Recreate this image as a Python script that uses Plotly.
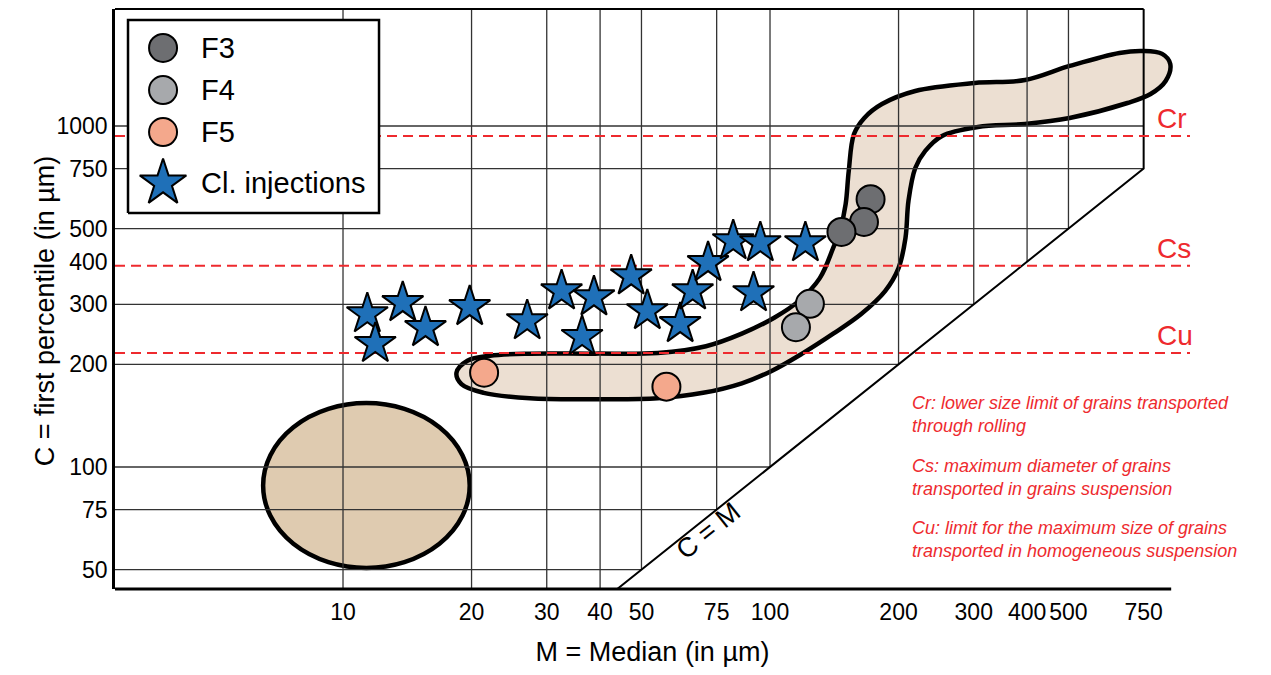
import numpy as np
import plotly.graph_objects as go

# ---- values (M = median, C = first percentile, in µm) ----
f3_m = [172, 166, 147]
f3_c = [610, 523, 489]
f4_m = [124, 115]
f4_c = [301, 257]
f5_m = [21.4, 57.2]
f5_c = [189, 172]
inj_m = [11.4, 13.8, 11.9, 15.6, 19.8, 27.0, 32.5, 38.7, 36.3, 47.3,
         51.6, 61.6, 65.9, 71.6, 82, 94.9, 91.5, 121]
inj_c = [281, 303, 230, 256, 295, 268, 328, 315, 241, 363,
         287, 263, 328, 397, 460, 454, 324, 454]

limit_names = ["Cr", "Cs", "Cu"]
limit_c = [935, 389, 216]
limit_notes = [
    "Cr: lower size limit of grains transported<br>through rolling",
    "Cs: maximum diameter of grains<br>transported in grains suspension",
    "Cu: limit for the maximum size of grains<br>transported in homogeneous suspension",
]

x_ticks = [10, 20, 30, 40, 50, 75, 100, 200, 300, 400, 500, 750]
y_ticks = [50, 75, 100, 200, 300, 400, 500, 750, 1000]
grid_m = [10, 20, 30, 40, 50, 75, 100, 200, 300, 400, 500]
grid_c = [50, 75, 100, 200, 300, 500, 750, 1000]

# outline of the elongated field (closed)
tube_m = [152.9, 157.3, 166.3, 182.9, 218.9, 301.7, 395.5, 503.1, 658, 745.6,
          828.6, 865.7, 844.4, 778.6, 687.2, 503.1, 395.5, 306.9, 252.9, 231.0,
          218.9, 211.0, 207.6, 200, 186, 163.5, 140.6, 118.9, 100.6, 85.9,
          69.7, 54.6, 38.95, 27.4, 21.35, 18.94, 18.44, 19.56, 22.1, 27.4,
          38.95, 54.6, 70.8, 85.9, 102.3, 116.9, 130.8, 140.6, 146.3, 150.4]
tube_c = [738, 947, 1056, 1160, 1267, 1337, 1364, 1500, 1638, 1660,
          1627, 1520, 1355, 1241, 1168, 1056, 1014, 993, 935, 845,
          753, 603, 469, 383, 328, 281, 246, 215, 191, 176,
          165, 159, 158, 159, 165, 175, 189, 205, 212, 215,
          215, 216, 226, 246, 274, 307, 358, 439, 502, 591]

# oval field bounds
ell_m = [6.5, 19.8]
ell_c = [50.6, 154]

legend_names = ["F3", "F4", "F5", "Cl. injections"]
legend_colors = ["#6d6e71", "#a7a9ac", "#f4a88c", "#1f70b8"]

X_RANGE = [0.466, 2.9836]
Y_RANGE = [1.6422, 3.3431]
xmin, xmax = 10 ** X_RANGE[0], 10 ** X_RANGE[1]
ymin, ymax = 10 ** Y_RANGE[0], 10 ** Y_RANGE[1]
m_edge = x_ticks[-1]
axis_end = 870

FONT = "Liberation Sans, Arial, sans-serif"
RED = "#ee2a2e"

fig = go.Figure()

# elongated field
fig.add_trace(go.Scatter(
    x=tube_m + tube_m[:1], y=tube_c + tube_c[:1], mode="lines",
    line=dict(color="black", width=4.5, shape="spline", smoothing=1.0),
    fill="toself", fillcolor="#ecdfd2", hoverinfo="skip"
))

# grid lines, clipped by the C = M line
gx, gy = [], []
for v in grid_m:
    gx += [v, v, None]
    gy += [max(v, ymin), ymax, None]
for h in grid_c:
    gx += [xmin, min(h, m_edge), None]
    gy += [h, h, None]
fig.add_trace(go.Scatter(x=gx, y=gy, mode="lines",
                         line=dict(color="#333333", width=1.3), hoverinfo="skip"))

# right border and C = M diagonal
fig.add_trace(go.Scatter(x=[ymin, m_edge, m_edge], y=[ymin, m_edge, ymax], mode="lines",
                         line=dict(color="black", width=2), hoverinfo="skip"))

# Cr / Cs / Cu limits
for c in limit_c:
    fig.add_trace(go.Scatter(x=[xmin, xmax], y=[c, c], mode="lines",
                             line=dict(color=RED, width=2, dash="10px,6px"),
                             hoverinfo="skip"))

fig.add_trace(go.Scatter(x=inj_m, y=inj_c, mode="markers",
                         marker=dict(symbol="star", size=31, color=legend_colors[3],
                                     line=dict(color="black", width=2))))
for m, c, col in [(f3_m, f3_c, legend_colors[0]), (f4_m, f4_c, legend_colors[1]),
                  (f5_m, f5_c, legend_colors[2])]:
    fig.add_trace(go.Scatter(x=m, y=c, mode="markers",
                             marker=dict(symbol="circle", size=28, color=col,
                                         line=dict(color="black", width=2))))

# hand-made legend on an overlay axis spanning the plot area
leg_x0, leg_x1, leg_y0, leg_y1 = 0.0121, 0.2456, 0.6483, 0.981
leg_rows = [0.9328, 0.8603, 0.7879, 0.700]
fig.add_trace(go.Scatter(
    x=[leg_x0, leg_x1, leg_x1, leg_x0, leg_x0], y=[leg_y0, leg_y0, leg_y1, leg_y1, leg_y0],
    mode="lines", fill="toself", fillcolor="white",
    line=dict(color="black", width=2.5), xaxis="x2", yaxis="y2", hoverinfo="skip"))
for name, col, yy in zip(legend_names, legend_colors, leg_rows):
    star = name.startswith("Cl")
    fig.add_trace(go.Scatter(
        x=[0.0447], y=[yy], mode="markers", xaxis="x2", yaxis="y2",
        marker=dict(symbol="star" if star else "circle", size=35 if star else 28,
                    color=col, line=dict(color="black", width=2))))
    fig.add_annotation(x=0.0781, y=yy, xref="paper", yref="paper", text=name,
                       showarrow=False, xanchor="left", yanchor="middle",
                       font=dict(size=29, color="black", family=FONT))

# limit labels and notes
for name, c in zip(limit_names, limit_c):
    fig.add_annotation(x=0.9674, y=np.log10(c), xref="paper", yref="y", text=name,
                       showarrow=False, xanchor="left", yanchor="middle", yshift=17,
                       font=dict(size=28, color=RED, family=FONT))
for note, yy in zip(limit_notes, [0.3009, 0.1922, 0.0853]):
    fig.add_annotation(x=0.7395, y=yy, xref="paper", yref="paper", text=f"<i>{note}</i>",
                       showarrow=False, xanchor="left", yanchor="middle", align="left",
                       font=dict(size=18, color=RED, family=FONT))

fig.add_annotation(x=np.log10(71.6), y=np.log10(64.9), text="C = M", showarrow=False,
                   textangle=-38.6, font=dict(size=27, color="black", family=FONT))

# y axis title
fig.add_annotation(x=-0.0651, y=0.479, xref="paper", yref="paper", showarrow=False,
                   xanchor="center", yanchor="middle",
                   text="C = first percentile (in µm)", textangle=-90,
                   font=dict(size=27, color="black", family=FONT))

# oval field
fig.add_shape(type="circle", xref="x", yref="y", x0=ell_m[0], x1=ell_m[1],
              y0=ell_c[0], y1=ell_c[1], fillcolor="#dfcbb0",
              line=dict(color="black", width=4.5), layer="below")
# top border and bottom axis line
fig.add_shape(type="line", xref="x", yref="paper", x0=xmin, x1=m_edge, y0=1, y1=1,
              line=dict(color="black", width=2.2))
fig.add_shape(type="line", xref="x", yref="paper", x0=xmin, x1=axis_end, y0=0, y1=0,
              line=dict(color="black", width=3))

# page body adds an 8 px margin, so the figure is 16 px smaller than the window
fig.update_layout(
    width=1255, height=659, showlegend=False,
    margin=dict(l=107, r=73, t=1, b=78, autoexpand=False),
    plot_bgcolor="white", paper_bgcolor="white",
    font=dict(family=FONT, color="black"),
    xaxis=dict(type="log", range=X_RANGE, tickvals=x_ticks, ticktext=[str(t) for t in x_ticks],
               showgrid=False, zeroline=False, showline=False, ticks="", automargin=False,
               tickfont=dict(size=23), ticklabelstandoff=7,
               title=dict(text="M = Median (in µm)", font=dict(size=27), standoff=20)),
    yaxis=dict(type="log", range=Y_RANGE, tickvals=y_ticks, ticktext=[str(t) for t in y_ticks],
               showgrid=False, zeroline=False, showline=True, linecolor="black", linewidth=2.6,
               ticks="", tickfont=dict(size=23), automargin=False),
    xaxis2=dict(overlaying="x", range=[0, 1], visible=False),
    yaxis2=dict(overlaying="y", range=[0, 1], visible=False),
)

fig.write_html("out.html")
